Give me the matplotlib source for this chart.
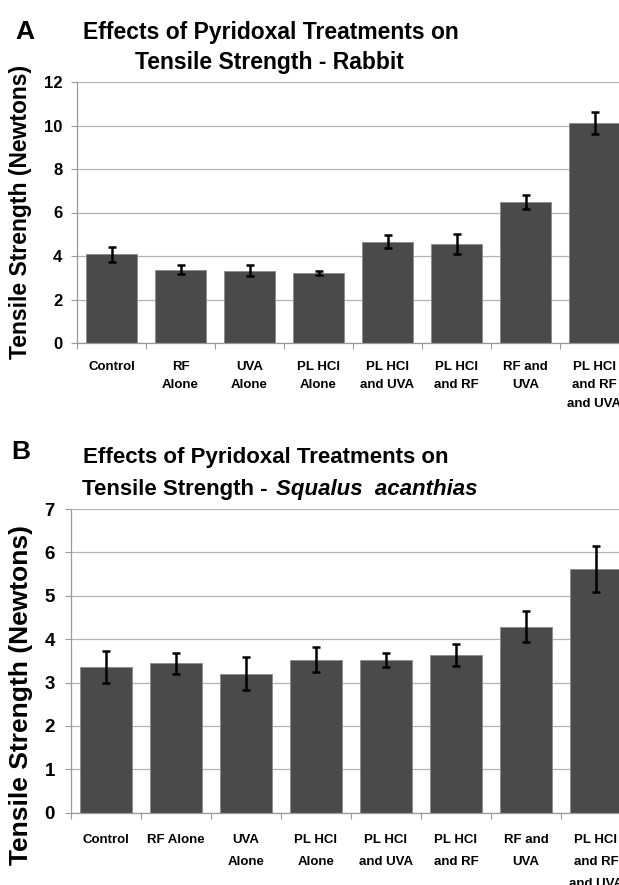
import numpy as np
import matplotlib
matplotlib.use("Agg")
import matplotlib.pyplot as plt

plt.rcParams['font.family'] = ['Liberation Sans', 'DejaVu Sans']
plt.rcParams['font.weight'] = 'bold'

# data
labels_a = ["Control", "RF\nAlone", "UVA\nAlone", "PL HCl\nAlone", "PL HCl\nand UVA",
            "PL HCl\nand RF", "RF and\nUVA", "PL HCl\nand RF\nand UVA"]
rabbit_mean = [4.07, 3.36, 3.33, 3.23, 4.65, 4.55, 6.48, 10.12]
rabbit_err = [0.35, 0.21, 0.26, 0.10, 0.30, 0.46, 0.32, 0.52]

labels_b = ["Control", "RF Alone", "UVA\nAlone", "PL HCl\nAlone", "PL HCl\nand UVA",
            "PL HCl\nand RF", "RF and\nUVA", "PL HCl\nand RF\nand UVA"]
squalus_mean = [3.36, 3.44, 3.20, 3.53, 3.52, 3.63, 4.29, 5.61]
squalus_err = [0.36, 0.25, 0.38, 0.29, 0.16, 0.25, 0.35, 0.53]

bar_color = '#4a4a4a'
grid_color = '#b3b3b3'

fig = plt.figure(figsize=(6.19, 8.85), dpi=100)
W, H = 619, 885


def make_axes(l, r, b, t):
    return fig.add_axes([l / W, 1 - b / H, (r - l) / W, (b - t) / H])


def style(ax, labels, means, errs, ymax, ystep, ytick_size, xlab_pad, lsp, ypad):
    x = np.arange(len(means))
    ax.set_axisbelow(True)
    ax.yaxis.grid(True, color=grid_color, lw=0.9)
    ax.bar(x, means, width=0.74, color=bar_color, edgecolor='#8a8a8a', lw=0.6, zorder=2)
    ax.errorbar(x, means, yerr=errs, fmt='none', ecolor='black', elinewidth=1.8,
                capsize=2.6, capthick=1.8, zorder=3)
    ax.set_xlim(-0.5, len(means) - 0.5)
    ax.set_ylim(0, ymax)
    ax.set_yticks(np.arange(0, ymax + 0.01, ystep))
    ax.tick_params(axis='y', length=4, color='#999999', width=0.8, pad=ypad,
                   labelsize=ytick_size)
    # category separators as major ticks, labels as minor ticks
    ax.set_xticks(np.arange(-0.5, len(means), 1.0))
    ax.set_xticklabels([])
    ax.tick_params(axis='x', which='major', length=4, color='#999999', width=0.8)
    ax.set_xticks(x, minor=True)
    ax.set_xticklabels(labels, minor=True, fontsize=9.5, fontweight='bold',
                       linespacing=lsp)
    ax.tick_params(axis='x', which='minor', length=0, pad=xlab_pad)
    for s in ['top', 'right']:
        ax.spines[s].set_visible(False)
    for s in ['left', 'bottom']:
        ax.spines[s].set_color('#999999')
        ax.spines[s].set_linewidth(0.9)


# panel A
ax1 = make_axes(77, 629, 343, 82)
style(ax1, labels_a, rabbit_mean, rabbit_err, 12, 2, 12, 13, 1.7, 6.5)
fig.text(25 / W, 1 - 32 / H, "A", fontsize=19, fontweight='bold', ha='center', va='center')
fig.text(271 / W, 1 - 32 / H, "Effects of Pyridoxal Treatments on", fontsize=16.5,
         fontweight='bold', ha='center', va='center')
fig.text(269 / W, 1 - 62 / H, "Tensile Strength - Rabbit", fontsize=16.5,
         fontweight='bold', ha='center', va='center')
fig.text(21 / W, 1 - 212 / H, "Tensile Strength (Newtons)", fontsize=16.5,
         fontweight='bold', rotation=90, ha='center', va='center')

# panel B
ax2 = make_axes(71, 631, 812.7, 509)
style(ax2, labels_b, squalus_mean, squalus_err, 7, 1, 13.5, 15, 2.15, 7.5)
fig.text(21 / W, 1 - 452 / H, "B", fontsize=19, fontweight='bold', ha='center', va='center')
fig.text(266 / W, 1 - 458 / H, "Effects of Pyridoxal Treatments on", fontsize=16,
         fontweight='bold', ha='center', va='center')
fig.text(268 / W, 1 - 490 / H, "Tensile Strength -", fontsize=16,
         fontweight='bold', ha='right', va='center')
fig.text(276 / W, 1 - 490 / H, "Squalus  acanthias", fontsize=16,
         fontweight='bold', style='italic', ha='left', va='center')
fig.text(21 / W, 1 - 695 / H, "Tensile Strength (Newtons)", fontsize=19,
         fontweight='bold', rotation=90, ha='center', va='center')

fig.savefig("out.png", dpi=100)
